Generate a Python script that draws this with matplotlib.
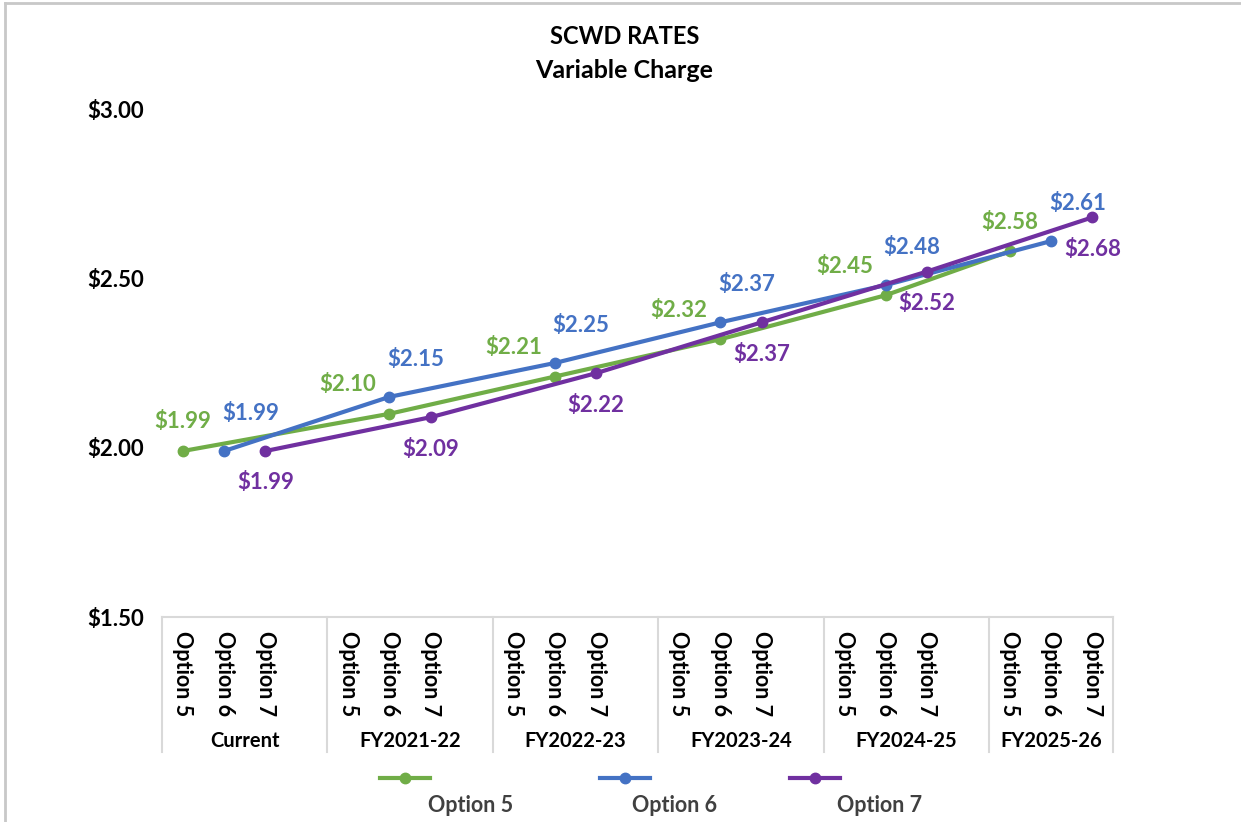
import matplotlib
matplotlib.use('Agg')
import matplotlib.pyplot as plt
from matplotlib.lines import Line2D

plt.rcParams['font.family'] = ['Lato', 'DejaVu Sans']
plt.rcParams['font.weight'] = 'bold'

# dati
gruppi = ['Current', 'FY2021-22', 'FY2022-23', 'FY2023-24', 'FY2024-25', 'FY2025-26']
opzioni = ['Option 5', 'Option 6', 'Option 7']
opt5 = [1.99, 2.10, 2.21, 2.32, 2.45, 2.58]
opt6 = [1.99, 2.15, 2.25, 2.37, 2.48, 2.61]
opt7 = [1.99, 2.09, 2.22, 2.37, 2.52, 2.68]
# colonna (0=Option 5, 1=Option 6, 2=Option 7) in cui cade ogni punto
col5 = [0, 1, 1, 1, 1, 0]
col6 = [1, 1, 1, 1, 1, 1]
col7 = [2, 2, 2, 2, 2, 2]
yticks = [1.5, 2.0, 2.5, 3.0]

verde = '#70AD47'
blu = '#4472C4'
viola = '#7030A0'
grigio = '#D9D9D9'

def slot(g, c):
    return 4 * g + c

fig = plt.figure(figsize=(12.41, 8.22), dpi=100)
ax = fig.add_axes([162/1241, 1 - 617/822, (1113-162)/1241, (617-109)/822])

serie = [(opt5, col5, verde), (opt6, col6, blu), (opt7, col7, viola)]
for vals, cols, col in serie:
    xs = [slot(g, c) for g, c in enumerate(cols)]
    ax.plot(xs, vals, color=col, lw=3, marker='o', ms=7.5, solid_capstyle='round')

# etichette dei dati
for g, v in enumerate(opt5):
    ax.annotate('$%.2f' % v, (slot(g, 0), v), xytext=(0, 21), textcoords='offset points',
                ha='center', va='center', color=verde, fontsize=16, fontweight='bold')
for g, v in enumerate(opt6):
    ax.annotate('$%.2f' % v, (slot(g, col6[g]), v), xytext=(19, 27), textcoords='offset points',
                ha='center', va='center', color=blu, fontsize=16, fontweight='bold')
for g, v in enumerate(opt7):
    ax.annotate('$%.2f' % v, (slot(g, col7[g]), v), xytext=(0, -23), textcoords='offset points',
                ha='center', va='center', color=viola, fontsize=16, fontweight='bold')

ax.set_xlim(-0.5, 22.5)
ax.set_ylim(1.5, 3.0)
ax.set_yticks(yticks)
ax.set_yticklabels(['$%.2f' % t for t in yticks], fontsize=16, fontweight='bold')
ax.tick_params(axis='y', length=0, pad=13)
ax.set_xticks([])
for s in ['top', 'right', 'left']:
    ax.spines[s].set_visible(False)
ax.spines['bottom'].set_color(grigio)
ax.spines['bottom'].set_linewidth(1.5)

# asse delle categorie a due livelli
trans = ax.get_xaxis_transform()
for g, nome in enumerate(gruppi):
    for c, op in enumerate(opzioni):
        ax.annotate(op, (slot(g, c), 0), xycoords=trans, xytext=(0, -10), textcoords='offset points',
                    rotation=-90, ha='center', va='top', fontsize=15.5, fontweight='bold', annotation_clip=False)
    centro = (slot(g, 0) + slot(g, 2)) / 2 + (0.5 if g < len(gruppi) - 1 else 0)
    ax.annotate(nome, (centro, 0), xycoords=trans, xytext=(0, -89), textcoords='offset points',
                ha='center', va='center', fontsize=14.5, fontweight='bold', annotation_clip=False)
bordi = [-0.5] + [slot(g, 3) + 0.5 for g in range(len(gruppi) - 1)] + [22.5]
for b in bordi:
    ax.add_line(Line2D([b, b], [0, -135/508], transform=trans, color=grigio, lw=1.5, clip_on=False))

# titolo
fig.text(0.503, 1 - 37/822, 'SCWD RATES', ha='center', va='center', fontsize=17, fontweight='bold')
fig.text(0.503, 1 - 70/822, 'Variable Charge', ha='center', va='center', fontsize=18, fontweight='bold')

# legenda
leg = [(380, 430, 471, verde, 'Option 5'), (600, 650, 675, blu, 'Option 6'), (790, 840, 880, viola, 'Option 7')]
for x0, x1, xt, col, nome in leg:
    fig.add_artist(Line2D([x0/1241, x1/1241], [1 - 778/822] * 2, color=col, lw=3))
    fig.add_artist(Line2D([(x0+x1)/2/1241], [1 - 778/822], color=col, marker='o', ms=7.5))
    fig.text(xt/1241, 1 - 805/822, nome, ha='center', va='center', fontsize=15.5, fontweight='bold', color='#404040')

# cornice
fig.add_artist(Line2D([5/1241, 1], [1 - 3/822] * 2, color='#C8C8C8', lw=2))
fig.add_artist(Line2D([5/1241] * 2, [0, 1 - 3/822], color='#C8C8C8', lw=2))

fig.savefig('out.png', dpi=100)
